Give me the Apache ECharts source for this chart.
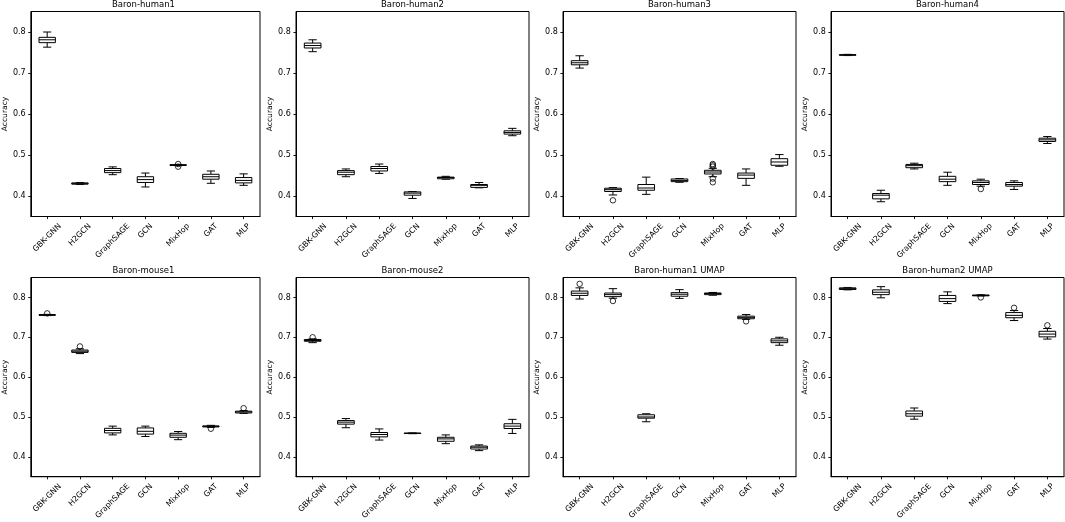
<!DOCTYPE html>
<html>
<head>
<meta charset="utf-8">
<script src="https://cdn.jsdelivr.net/npm/echarts@6/dist/echarts.min.js"></script>
<style>
html, body { margin: 0; padding: 0; background: #fff; }
#chart { width: 1065px; height: 522px; }
</style>
</head>
<body>
<div id="chart"></div>
<script>
const methods = ['GBK-GNN', 'H2GCN', 'GraphSAGE', 'GCN', 'MixHop', 'GAT', 'MLP'];
const panelTitles = ['Baron-human1', 'Baron-human2', 'Baron-human3', 'Baron-human4',
    'Baron-mouse1', 'Baron-mouse2', 'Baron-human1 UMAP', 'Baron-human2 UMAP'];
const yTicks = [0.4, 0.5, 0.6, 0.7, 0.8];

// each row: [min, q1, median, q3, max] for one method
const human1Stats = [
    [0.763, 0.774, 0.781, 0.787, 0.800],
    [0.428, 0.429, 0.430, 0.432, 0.433],
    [0.452, 0.457, 0.462, 0.467, 0.471],
    [0.422, 0.433, 0.440, 0.447, 0.456],
    [0.474, 0.4745, 0.475, 0.4765, 0.477],
    [0.431, 0.441, 0.447, 0.453, 0.461],
    [0.426, 0.432, 0.438, 0.445, 0.454]
];
const human1Outliers = [[4, 0.478], [4, 0.4715]];

const human2Stats = [
    [0.752, 0.761, 0.767, 0.773, 0.781],
    [0.447, 0.452, 0.458, 0.462, 0.466],
    [0.455, 0.461, 0.467, 0.472, 0.478],
    [0.394, 0.402, 0.407, 0.410, 0.411],
    [0.441, 0.442, 0.445, 0.446, 0.448],
    [0.420, 0.421, 0.426, 0.428, 0.433],
    [0.547, 0.551, 0.555, 0.559, 0.565]
];
const human2Outliers = [];

const human3Stats = [
    [0.712, 0.720, 0.725, 0.730, 0.742],
    [0.4025, 0.411, 0.4155, 0.419, 0.4205],
    [0.404, 0.414, 0.4195, 0.428, 0.446],
    [0.4335, 0.435, 0.438, 0.4415, 0.4425],
    [0.447, 0.4537, 0.4585, 0.4627, 0.4676],
    [0.426, 0.443, 0.451, 0.456, 0.466],
    [0.4725, 0.475, 0.483, 0.491, 0.501]
];
const human3Outliers = [[1, 0.3895], [4, 0.478], [4, 0.475], [4, 0.4717], [4, 0.4425], [4, 0.4334]];

const human4Stats = [
    [0.7425, 0.7433, 0.744, 0.7447, 0.7455],
    [0.386, 0.393, 0.402, 0.406, 0.414],
    [0.466, 0.469, 0.474, 0.477, 0.480],
    [0.426, 0.435, 0.441, 0.448, 0.458],
    [0.424, 0.428, 0.433, 0.437, 0.441],
    [0.416, 0.424, 0.428, 0.433, 0.437],
    [0.528, 0.533, 0.537, 0.541, 0.545]
];
const human4Outliers = [[4, 0.417]];

const mouse1Stats = [
    [0.7545, 0.755, 0.756, 0.757, 0.7575],
    [0.659, 0.662, 0.665, 0.668, 0.671],
    [0.455, 0.460, 0.466, 0.4715, 0.477],
    [0.451, 0.457, 0.464, 0.4725, 0.477],
    [0.443, 0.449, 0.4545, 0.459, 0.4635],
    [0.474, 0.475, 0.4765, 0.4775, 0.479],
    [0.509, 0.510, 0.5125, 0.5145, 0.516]
];
const mouse1Outliers = [[0, 0.760], [1, 0.677], [5, 0.4705], [6, 0.522]];

const mouse2Stats = [
    [0.6865, 0.690, 0.692, 0.6945, 0.696],
    [0.473, 0.482, 0.487, 0.491, 0.496],
    [0.442, 0.450, 0.456, 0.461, 0.470],
    [0.458, 0.4585, 0.459, 0.4595, 0.460],
    [0.433, 0.439, 0.445, 0.449, 0.455],
    [0.4155, 0.4195, 0.424, 0.427, 0.430],
    [0.4586, 0.471, 0.477, 0.483, 0.494]
];
const mouse2Outliers = [[0, 0.700]];

const human1UmapStats = [
    [0.796, 0.805, 0.8105, 0.816, 0.824],
    [0.798, 0.802, 0.807, 0.811, 0.822],
    [0.488, 0.497, 0.500, 0.5055, 0.508],
    [0.7975, 0.803, 0.808, 0.812, 0.8195],
    [0.8055, 0.807, 0.810, 0.811, 0.8125],
    [0.745, 0.7465, 0.750, 0.753, 0.757],
    [0.680, 0.6865, 0.691, 0.696, 0.700]
];
const human1UmapOutliers = [[0, 0.834], [1, 0.791], [5, 0.740]];

const human2UmapStats = [
    [0.819, 0.820, 0.822, 0.824, 0.825],
    [0.799, 0.807, 0.813, 0.819, 0.827],
    [0.4945, 0.502, 0.508, 0.515, 0.5225],
    [0.7845, 0.790, 0.797, 0.805, 0.814],
    [0.804, 0.804, 0.805, 0.806, 0.8065],
    [0.742, 0.749, 0.755, 0.762, 0.767],
    [0.6955, 0.701, 0.708, 0.715, 0.722]
];
const human2UmapOutliers = [[4, 0.800], [5, 0.774], [6, 0.730]];

const panelStats = [human1Stats, human2Stats, human3Stats, human4Stats,
    mouse1Stats, mouse2Stats, human1UmapStats, human2UmapStats];
const panelOutliers = [human1Outliers, human2Outliers, human3Outliers, human4Outliers,
    mouse1Outliers, mouse2Outliers, human1UmapOutliers, human2UmapOutliers];

const FONT = '"DejaVu Sans", "Liberation Sans", sans-serif';
const INK = '#000';
const colLefts = [27, 296, 563, 831];
const rowTops = [11.5, 277.5];
const plotW = 233;
const plotH = 205;
const tickLen = 2.6;
const tickPad = 5.2;
const xLabelSize = 7.8;

// matplotlib centres rotated tick labels under the tick with their top at the pad;
// push each rich label down by padding its top and right edges equally
const measure = document.createElement('canvas').getContext('2d');
measure.font = xLabelSize + 'px ' + FONT;
const xRich = {};
methods.forEach(function (m, i) {
    const w = measure.measureText(m).width;
    const extent = Math.SQRT1_2 * (w + 1.15 * xLabelSize);
    const p = (tickPad + extent / 2) / Math.SQRT1_2;
    xRich['m' + i] = { fontSize: xLabelSize, fontFamily: FONT, color: INK, padding: [p, p, 0, 0] };
});

function renderBox(params, api) {
    const x = api.value(0);
    const lo = api.coord([x, api.value(1)]);
    const q1 = api.coord([x, api.value(2)]);
    const med = api.coord([x, api.value(3)]);
    const q3 = api.coord([x, api.value(4)]);
    const hi = api.coord([x, api.value(5)]);
    const step = api.size([1, 0])[0];
    const bw = step * 0.5;
    const cw = bw * 0.5;
    const cx = med[0];
    const style = { stroke: INK, lineWidth: 1, fill: null };
    return {
        type: 'group',
        children: [
            { type: 'line', shape: { x1: cx, y1: q3[1], x2: cx, y2: hi[1] }, style: style },
            { type: 'line', shape: { x1: cx, y1: q1[1], x2: cx, y2: lo[1] }, style: style },
            { type: 'line', shape: { x1: cx - cw / 2, y1: hi[1], x2: cx + cw / 2, y2: hi[1] }, style: style },
            { type: 'line', shape: { x1: cx - cw / 2, y1: lo[1], x2: cx + cw / 2, y2: lo[1] }, style: style },
            { type: 'rect', shape: { x: cx - bw / 2, y: q3[1], width: bw, height: q1[1] - q3[1] },
              style: { fill: '#fff', stroke: INK, lineWidth: 1 } },
            { type: 'line', shape: { x1: cx - bw / 2, y1: med[1], x2: cx + bw / 2, y2: med[1] }, style: style }
        ]
    };
}

const grids = [], xAxes = [], yAxes = [], titles = [], series = [];
panelTitles.forEach(function (name, k) {
    const left = colLefts[k % 4];
    const top = rowTops[Math.floor(k / 4)];
    grids.push({
        left: left, top: top, width: plotW, height: plotH,
        show: true, borderColor: INK, borderWidth: 1, backgroundColor: '#fff'
    });
    titles.push({
        text: name, left: left + plotW / 2, top: top - 11.5, padding: 0,
        textAlign: 'center', textVerticalAlign: 'top',
        textStyle: { fontSize: 8.5, fontWeight: 'normal', fontFamily: FONT, color: INK, lineHeight: 10 }
    });
    xAxes.push({
        gridIndex: k, type: 'category', data: methods, boundaryGap: true,
        axisLine: { show: true, lineStyle: { color: INK, width: 1 } },
        axisTick: { show: true, alignWithLabel: true, length: tickLen, lineStyle: { color: INK, width: 0.9 } },
        axisLabel: {
            interval: 0, rotate: 45, align: 'center', verticalAlign: 'middle', margin: 0,
            fontSize: xLabelSize, fontFamily: FONT, color: INK, rich: xRich,
            formatter: function (value, idx) { return '{m' + idx + '|' + value + '}'; }
        },
        splitLine: { show: false }
    });
    yAxes.push({
        gridIndex: k, type: 'value', min: 0.35, max: 0.85,
        name: 'Accuracy', nameLocation: 'middle', nameRotate: 90, nameGap: 19,
        nameTextStyle: { fontSize: 7.6, fontFamily: FONT, color: INK },
        axisLine: { show: true, lineStyle: { color: INK, width: 1 } },
        axisTick: { show: true, length: tickLen, customValues: yTicks, lineStyle: { color: INK, width: 0.9 } },
        axisLabel: {
            customValues: yTicks, margin: tickPad, fontSize: 8, fontFamily: FONT, color: INK,
            formatter: function (v) { return v.toFixed(1); }
        },
        splitLine: { show: false }
    });
    series.push({
        type: 'custom', xAxisIndex: k, yAxisIndex: k, silent: true,
        data: panelStats[k].map(function (s, i) { return [i].concat(s); }),
        encode: { x: 0, y: [1, 2, 3, 4, 5] },
        renderItem: renderBox
    });
    series.push({
        type: 'scatter', xAxisIndex: k, yAxisIndex: k, silent: true,
        data: panelOutliers[k], symbol: 'circle', symbolSize: 5.5, z: 3,
        itemStyle: { color: 'rgba(255,255,255,0)', borderColor: INK, borderWidth: 1 }
    });
});

const chart = echarts.init(document.getElementById('chart'), null, { renderer: 'canvas' });
chart.setOption({
    backgroundColor: '#fff',
    animation: false,
    title: titles,
    grid: grids,
    xAxis: xAxes,
    yAxis: yAxes,
    series: series
});
window.addEventListener('resize', function () {
    chart.resize();
});
</script>
</body>
</html>
